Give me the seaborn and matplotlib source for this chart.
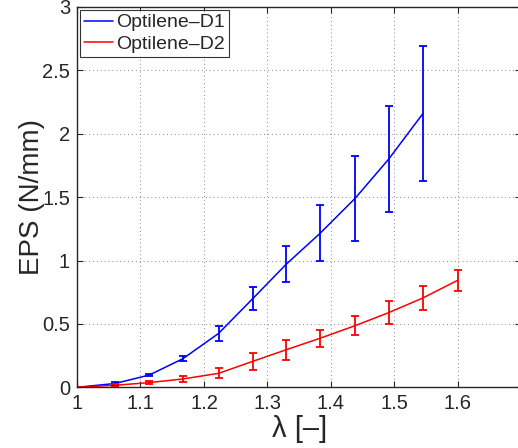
import numpy as np
import pandas as pd
import matplotlib
matplotlib.use('Agg')
import matplotlib.pyplot as plt
import seaborn as sns
from matplotlib.ticker import FormatStrFormatter

# stretch values, error bars at every point
lam_d1 = [1.0, 1.06, 1.114, 1.167, 1.223, 1.277, 1.33, 1.383, 1.438, 1.491, 1.545]
eps_d1 = [0.0, 0.03, 0.097, 0.226, 0.425, 0.70, 0.973, 1.215, 1.49, 1.80, 2.16]
err_d1 = [0.0, 0.01, 0.01, 0.021, 0.06, 0.09, 0.142, 0.22, 0.335, 0.42, 0.535]

lam_d2 = [1.0, 1.06, 1.114, 1.167, 1.223, 1.277, 1.33, 1.383, 1.438, 1.491, 1.545, 1.6]
eps_d2 = [0.0, 0.016, 0.037, 0.066, 0.11, 0.205, 0.297, 0.387, 0.486, 0.589, 0.705, 0.845]
err_d2 = [0.0, 0.01, 0.012, 0.025, 0.04, 0.065, 0.078, 0.068, 0.076, 0.093, 0.097, 0.084]

x_ticks = [1, 1.1, 1.2, 1.3, 1.4, 1.5, 1.6]
y_ticks = [0, 0.5, 1, 1.5, 2, 2.5, 3]

sns.set_style('ticks')
plt.rcParams['font.family'] = ['Liberation Sans', 'DejaVu Sans']

df = pd.concat([
    pd.DataFrame({'lam': lam_d1, 'eps': eps_d1, 'err': err_d1, 'series': 'Optilene–D1'}),
    pd.DataFrame({'lam': lam_d2, 'eps': eps_d2, 'err': err_d2, 'series': 'Optilene–D2'}),
])
colors = {'Optilene–D1': (0, 0, 1), 'Optilene–D2': (1, 0, 0)}

fig = plt.figure(figsize=(5.18, 4.48), dpi=100)
ax = fig.add_axes([0.1486, 0.1355, 0.858, 0.849])

sns.lineplot(data=df, x='lam', y='eps', hue='series', palette=colors, lw=1.1, ax=ax, sort=False)
for name, g in df.groupby('series'):
    ax.errorbar(g['lam'], g['eps'], yerr=g['err'], fmt='none', ecolor=colors[name],
                elinewidth=1.3, capsize=3, capthick=1.3)

ax.set_xlim(1, 1.7)
ax.set_ylim(0, 3)
ax.set_xticks(x_ticks + [1.7])
ax.set_xticklabels([f'{t:g}' for t in x_ticks] + [''])
ax.set_yticks(y_ticks)
ax.yaxis.set_major_formatter(FormatStrFormatter('%g'))
ax.tick_params(direction='in', top=True, right=True, labelsize=14.5, length=4, width=0.8, pad=5)
ax.grid(True, linestyle=(0, (1, 3)), color='#888888', lw=0.7)
for s in ax.spines.values():
    s.set_linewidth(1.0)

ax.set_xlabel('λ [–]', fontsize=21, labelpad=1)
ax.set_ylabel('EPS (N/mm)', fontsize=20, labelpad=-2)

leg = ax.legend(loc='upper left', fontsize=14, frameon=True, fancybox=False,
                edgecolor='black', borderpad=0.2, handlelength=1.5, handletextpad=0.15,
                labelspacing=0.2, borderaxespad=0.15)
leg.get_frame().set_linewidth(0.8)

fig.savefig('out.png', dpi=100)
